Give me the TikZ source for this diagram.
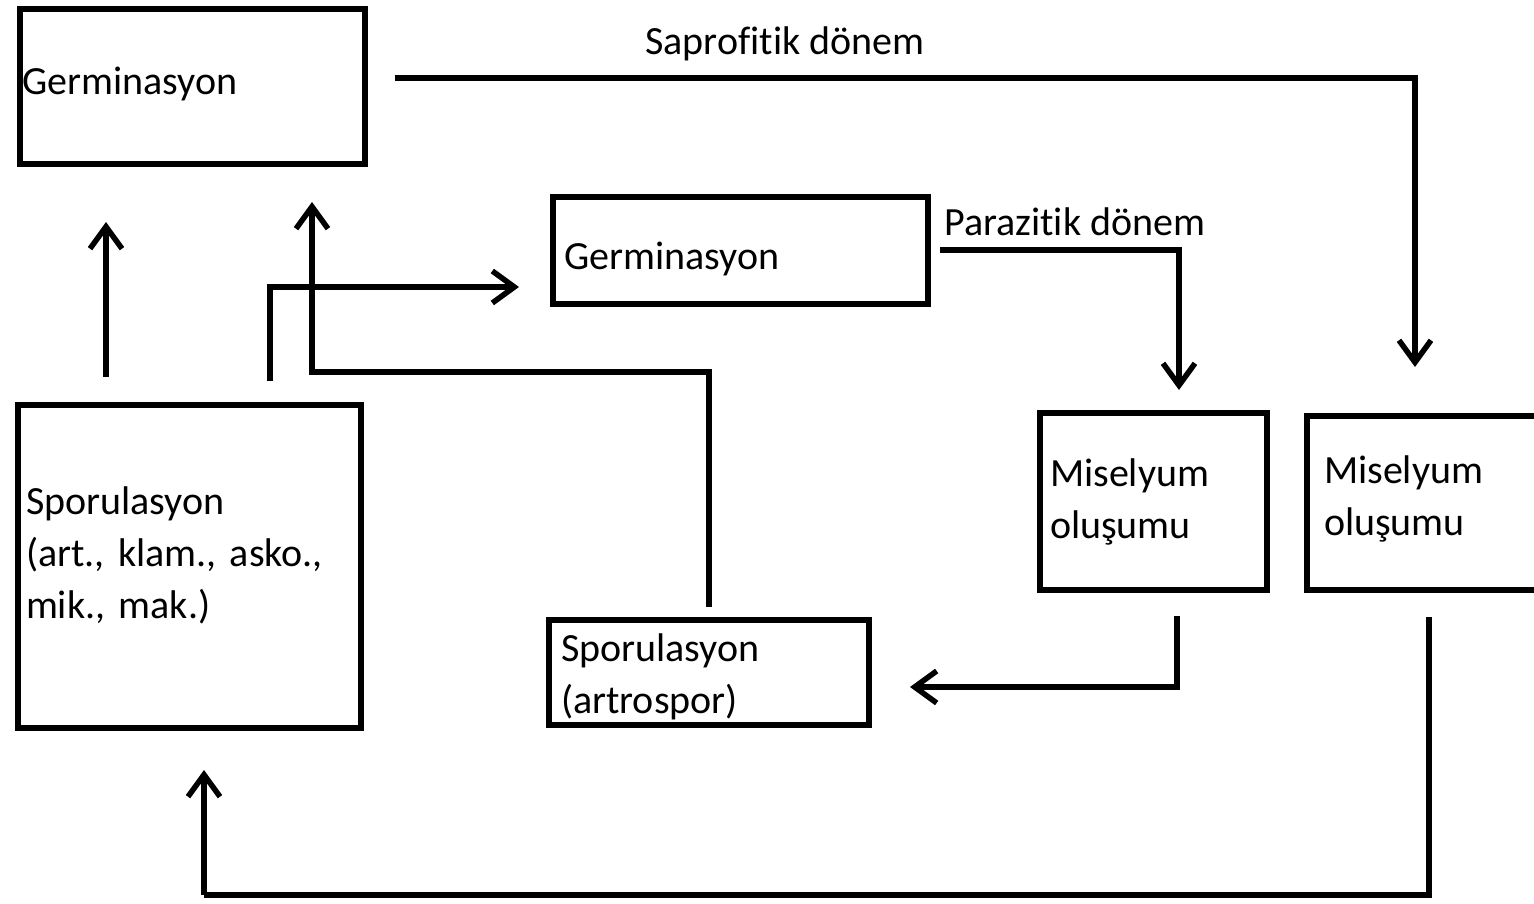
\documentclass[tikz,border=0pt]{standalone}
\usepackage{fontspec}
\setmainfont{Carlito}[Ligatures=NoCommon]
\usetikzlibrary{arrows.meta}
\begin{document}
\frenchspacing
\begin{tikzpicture}[x=1pt,y=-1pt,
  box/.style={draw, line width=6.5pt, inner ysep=0pt, align=left, font=\fontsize{40}{52}\selectfont},
  lbl/.style={inner sep=0pt, font=\fontsize{40}{52}\selectfont},
  conn/.style={line width=6pt, line join=miter, -{Straight Barb[length=22pt,width=32pt,line width=5.5pt]}},
  plainline/.style={line width=6pt, line join=miter}]
\useasboundingbox (0,0) rectangle (1534,904);
% boxes
\node[box, minimum width=345pt, minimum height=155pt, inner xsep=2pt, text width=341pt] (g1) at (192.5,86.5) {\raisebox{3pt}[\height][\depth]{Germinasyon}};
\node[box, minimum width=375pt, minimum height=107pt, inner xsep=11pt, text width=353pt] (g2) at (740.5,250.5) {\raisebox{-8pt}[\height][\depth]{Germinasyon}};
\node[box, minimum width=343pt, minimum height=323pt, inner xsep=8pt, text width=327pt] (s1) at (189.5,566.5) {Sporulasyon\\(art., klam., asko.,\\mik., mak.)\\[-24pt]\mbox{}};
\node[box, minimum width=320pt, minimum height=105pt, inner xsep=12pt, text width=296pt] (s2) at (709,672.5) {\raisebox{-4pt}[\height][\depth]{Sporulasyon}\\\raisebox{-4pt}[\height][\depth]{(artrospor)}};
\node[box, minimum width=227pt, minimum height=177pt, inner xsep=10pt, text width=207pt] (m1) at (1153.5,501.5) {Miselyum\\oluşumu};
\node[box, minimum width=238pt, minimum height=174pt, inner xsep=17pt, text width=204pt] (m2) at (1426,503) {\raisebox{4pt}[\height][\depth]{Miselyum}\\\raisebox{4pt}[\height][\depth]{oluşumu}};
% labels
\node[lbl, anchor=center] (lsap) at (785,44) {Saprofitik dönem};
\node[lbl, anchor=west] (lpar) at (944,222) {Parazitik dönem};
% connector end points
\coordinate (c1a) at (395,78);   \coordinate (c1b) at (1415,367);
\coordinate (c2a) at (940,250);  \coordinate (c2b) at (1179,390);
\coordinate (c3a) at (106,377);  \coordinate (c3b) at (106,222);
\coordinate (c4a) at (270,381);  \coordinate (c4b) at (519,287);
\coordinate (c5a) at (709,607);  \coordinate (c5m) at (312,372); \coordinate (c5b) at (312,202);
\coordinate (c6a) at (1177,616); \coordinate (c6b) at (910,687);
\coordinate (c7a) at (1429,617); \coordinate (c7m) at (204,895); \coordinate (c7b) at (204,770);
% connectors
\draw[conn] (c1a) -| (c1b);
\draw[conn] (c2a) -| (c2b);
\draw[conn] (c3a) -- (c3b);
\draw[conn] (c4a) |- (c4b);
\draw[conn] (c5a) |- (c5m) -- (c5b);
\draw[conn] (c6a) |- (c6b);
\draw[plainline] (c7a) |- (c7m);
\draw[conn] (c7m) -- (c7b);
\end{tikzpicture}
\end{document}
